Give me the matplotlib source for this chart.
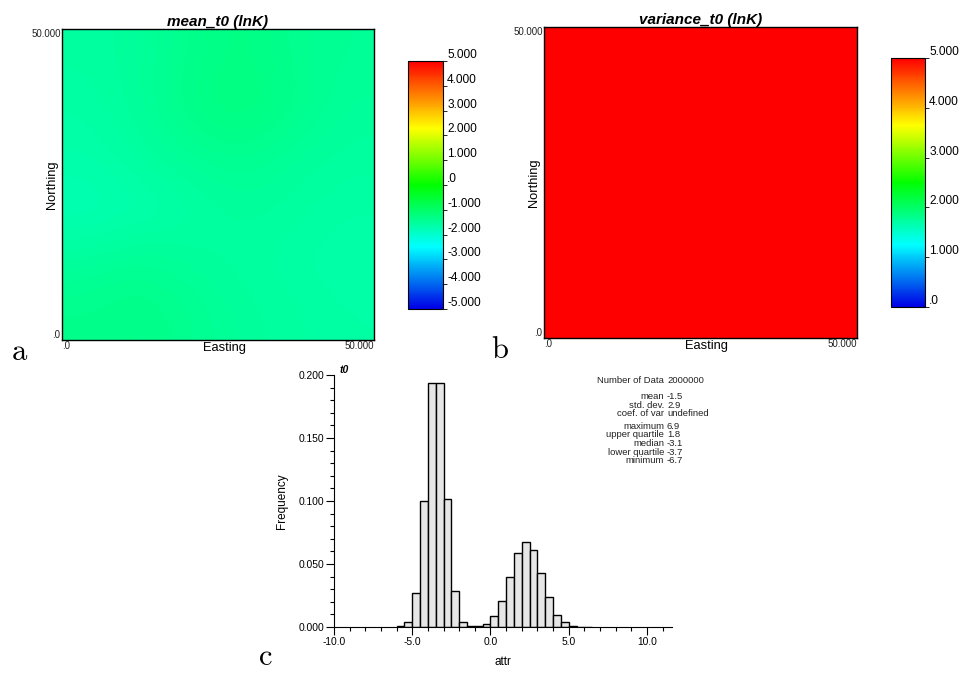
import numpy as np
from matplotlib import pyplot as plt
from matplotlib.colors import LinearSegmentedColormap
from matplotlib.ticker import MultipleLocator

plt.rcParams['font.family'] = ['Liberation Sans', 'DejaVu Sans']
plt.rcParams['mathtext.fontset'] = 'cm'

# Mean of t0 over the field, coarse grid (row 0 = north)
mean_grid = [
    [-1.55, -1.50, -1.35, -1.25, -1.40, -1.45],
    [-1.60, -1.50, -1.30, -1.20, -1.35, -1.50],
    [-1.65, -1.55, -1.45, -1.40, -1.50, -1.55],
    [-1.75, -1.70, -1.60, -1.50, -1.55, -1.60],
    [-1.50, -1.40, -1.50, -1.55, -1.60, -1.65],
    [-1.35, -1.30, -1.40, -1.50, -1.55, -1.60],
]
# Variance is above the colour scale everywhere
variance_value = 8.4

cb1_ticks = [5, 4, 3, 2, 1, 0, -1, -2, -3, -4, -5]
cb1_labels = ['5.000', '4.000', '3.000', '2.000', '1.000', '.0',
              '-1.000', '-2.000', '-3.000', '-4.000', '-5.000']
cb2_ticks = [5, 4, 3, 2, 1, 0]
cb2_labels = ['5.000', '4.000', '3.000', '2.000', '1.000', '.0']

# Histogram of t0: left bin edges and frequencies
bin_left = [-6.0, -5.5, -5.0, -4.5, -4.0, -3.5, -3.0, -2.5, -2.0, -1.5,
            -1.0, -0.5, 0.0, 0.5, 1.0, 1.5, 2.0, 2.5, 3.0, 3.5,
            4.0, 4.5, 5.0, 5.5, 6.0]
freq = [0.0008, 0.0037, 0.0272, 0.0998, 0.1935, 0.1938, 0.1015, 0.0285,
        0.0040, 0.0006, 0.0008, 0.0025, 0.0085, 0.0208, 0.0398, 0.0590,
        0.0678, 0.0612, 0.0430, 0.0240, 0.0098, 0.0036, 0.0009, 0.0003,
        0.0001]
bin_width = 0.5

stat_names = ['Number of Data', 'mean', 'std. dev.', 'coef. of var',
              'maximum', 'upper quartile', 'median', 'lower quartile', 'minimum']
stat_values = ['2000000', '-1.5', '2.9', 'undefined',
               '6.9', '1.8', '-3.1', '-3.7', '-6.7']

cmap = LinearSegmentedColormap.from_list(
    'sgems',
    [(0.0, '#0000e6'), (0.25, '#00ffff'), (0.5, '#00ff00'),
     (0.73, '#ffff00'), (1.0, '#ff0000')]
)

W, H = 962, 673
fig = plt.figure(figsize=(W / 100, H / 100), dpi=100)


def px_axes(l, t, r, b):
    # axes from pixel box
    return fig.add_axes([l / W, 1 - b / H, (r - l) / W, (b - t) / H])


def map_panel(ax, data, title, vmin, vmax):
    im = ax.imshow(np.array(data), extent=[0, 50, 0, 50], cmap=cmap,
                   vmin=vmin, vmax=vmax, interpolation='bicubic', aspect='auto')
    ax.set_xlim(0, 50)
    ax.set_ylim(0, 50)
    ax.set_xticks([0, 50])
    ax.set_xticklabels(['.0', '50.000'], fontsize=7, color='#222222')
    ax.set_yticks([0, 50])
    ax.set_yticklabels(['.0', '50.000'], fontsize=7, color='#222222')
    ax.tick_params(length=0, pad=1)
    xl = ax.get_xticklabels()
    xl[0].set_ha('left')
    xl[1].set_ha('right')
    yl = ax.get_yticklabels()
    yl[0].set_va('bottom')
    yl[1].set_va('top')
    for s in ax.spines.values():
        s.set_linewidth(1.0)
    ax.set_xlabel('Easting', fontsize=9.3)
    ax.xaxis.set_label_coords(0.52, -0.008)
    ax.set_ylabel('Northing', fontsize=9.3)
    ax.yaxis.set_label_coords(-0.012, 0.5)
    ax.set_title(title, fontsize=11, fontweight='bold', style='italic', pad=1.5)
    return im


def colorbar(im, cax, ticks, labels):
    cb = fig.colorbar(im, cax=cax, ticks=ticks)
    cb.ax.set_yticklabels(labels)
    cb.ax.tick_params(length=3, width=0.6, pad=0, labelsize=8.6)
    for lab in cb.ax.get_yticklabels():
        lab.set_va('bottom')
    cb.outline.set_linewidth(0.8)
    return cb


# a: mean map
ax1 = px_axes(62, 29, 374, 340)
im1 = map_panel(ax1, mean_grid, 'mean_t0 (lnK)', -5, 5)
cax1 = px_axes(408, 61, 443, 309)
colorbar(im1, cax1, cb1_ticks, cb1_labels)

# b: variance map (own scale 0..5)
ax2 = px_axes(544, 27, 857, 338)
var_grid = np.full((2, 2), variance_value)
im2 = map_panel(ax2, var_grid, 'variance_t0 (lnK)', 0, 5)
cax2 = px_axes(891, 58, 925, 307)
colorbar(im2, cax2, cb2_ticks, cb2_labels)

# c: histogram
ax3 = px_axes(334, 375, 672, 627)
ax3.bar(bin_left, freq, width=bin_width, align='edge', color='#e6e6e6',
        edgecolor='black', linewidth=1.0)
ax3.set_xlim(-10, 11.6)
ax3.set_ylim(0, 0.2)
ax3.set_xticks([-10, -5, 0, 5, 10])
ax3.set_xticklabels(['-10.0', '-5.0', '0.0', '5.0', '10.0'])
ax3.set_yticks([0, 0.05, 0.1, 0.15, 0.2])
ax3.set_yticklabels(['0.000', '0.050', '0.100', '0.150', '0.200'])
ax3.xaxis.set_minor_locator(MultipleLocator(1))
ax3.yaxis.set_minor_locator(MultipleLocator(0.01))
ax3.tick_params(which='major', length=6, width=0.8, labelsize=7.4, pad=1,
                colors='black')
ax3.tick_params(which='minor', length=3, width=0.8)
ax3.spines['top'].set_visible(False)
ax3.spines['right'].set_visible(False)
ax3.set_xlabel('attr', fontsize=8.5)
ax3.xaxis.set_label_coords(0.5, -0.115)
ax3.set_ylabel('Frequency', fontsize=8.5)
ax3.yaxis.set_label_coords(-0.136, 0.5)
ax3.text(0.015, 1.0, 't0', transform=ax3.transAxes, fontsize=7.5,
         fontweight='bold', style='italic', va='bottom', ha='left')

# summary statistics
y0 = 380.7
gaps = [0, 16, 8.5, 8.5, 12.5, 8.7, 8.7, 8.7, 8.7]
y = y0
for name, val, g in zip(stat_names, stat_values, gaps):
    y += g
    fig.text(664 / W, 1 - y / H, name, fontsize=6.8, ha='right', va='center',
             color='#222222')
    fig.text(667 / W, 1 - y / H, val, fontsize=6.8, ha='left', va='center',
             color='#222222')

# panel letters
fig.text(20 / W, 1 - 352 / H, r'$\mathrm{a}$', fontsize=22, ha='center', va='center')
fig.text(500 / W, 1 - 350 / H, r'$\mathrm{b}$', fontsize=22, ha='center', va='center')
fig.text(265 / W, 1 - 657 / H, r'$\mathrm{c}$', fontsize=22, ha='center', va='center')

fig.savefig('out.png', dpi=100)
